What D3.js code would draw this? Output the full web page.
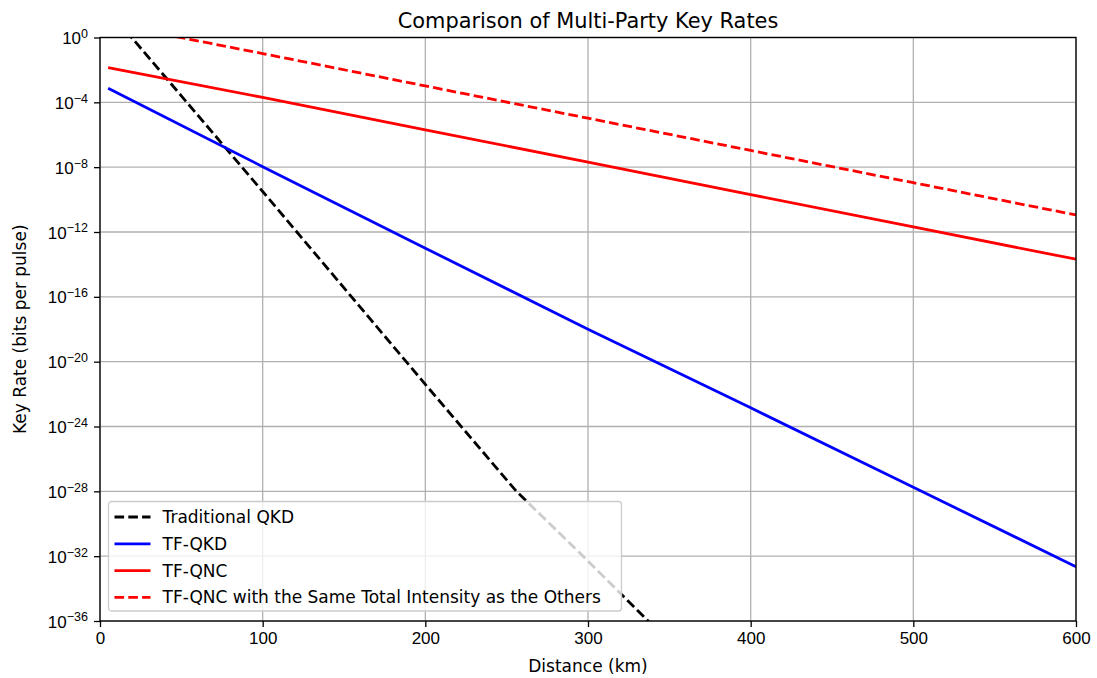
<!DOCTYPE html>
<html>
<head>
<meta charset="utf-8">
<script src="https://cdn.jsdelivr.net/npm/d3@7"></script>
<style>
body { margin: 0; background: #fff; }
svg { font-family: "DejaVu Sans", sans-serif; }
</style>
</head>
<body>
<div id="canvas"></div>
<script>
// Data (distance in km, key rate as log10 exponent)
var distances = [5, 100, 200, 300, 400, 500, 600]
var trad_distances = [5, 50, 100, 150, 200, 256, 297, 337, 345]
var trad_qkd = [1.7, -3.6, -9.5, -15.45, -21.4, -28.0, -32.0, -36.0, -36.8]
var tf_qkd = [-3.13, -7.97, -13.0, -18.0, -22.85, -27.75, -32.65]
var tf_qnc = [-1.86, -3.70, -5.70, -7.69, -9.69, -11.69, -13.68]
var tf_qnc_same = [0.87, -0.99, -2.99, -4.98, -6.97, -8.96, -10.95]
var x_ticks = [0, 100, 200, 300, 400, 500, 600]
var y_exps = [0, -4, -8, -12, -16, -20, -24, -28, -32, -36]

var series = [
    {name: "Traditional QKD", xs: trad_distances, ys: trad_qkd, colour: "black", dash: "9.6,4.2"},
    {name: "TF-QKD", xs: distances, ys: tf_qkd, colour: "blue", dash: null},
    {name: "TF-QNC", xs: distances, ys: tf_qnc, colour: "red", dash: null},
    {name: "TF-QNC with the Same Total Intensity as the Others", xs: distances, ys: tf_qnc_same, colour: "red", dash: "9.6,4.2"}
]

// Display variables
var total_width = 1097, total_height = 678
var margin = {top: 37.5, right: 21, bottom: 57, left: 100}
var width = total_width - margin.left - margin.right
var height = total_height - margin.top - margin.bottom
var grid_colour = "#b0b0b0"
var font_size = "17px", title_size = "20.9px"
var line_w = 2.8, thin_w = 1.3, tick_len = 6

var svg_outer = d3.select("#canvas").append("svg").attr("width", total_width).attr("height", total_height)
var svg = svg_outer.append("g").attr("transform", "translate(" + margin.left + "," + margin.top + ")")

svg.append("defs").append("clipPath").attr("id", "clip")
    .append("rect").attr("x", 0).attr("y", 0).attr("width", width).attr("height", height)

var x = d3.scaleLinear().domain([0, 600]).range([0, width])
var y = d3.scaleLog().domain([1e-36, 1]).range([height, 0])

// Grid
svg.append("g").selectAll("line").data(x_ticks).enter().append("line")
    .attr("x1", d => x(d)).attr("x2", d => x(d)).attr("y1", 0).attr("y2", height)
    .attr("stroke", grid_colour).attr("stroke-width", thin_w)
svg.append("g").selectAll("line").data(y_exps).enter().append("line")
    .attr("x1", 0).attr("x2", width).attr("y1", d => y(Math.pow(10, d))).attr("y2", d => y(Math.pow(10, d)))
    .attr("stroke", grid_colour).attr("stroke-width", thin_w)

// Lines
var line = d3.line().x(d => x(d[0])).y(d => y(Math.pow(10, d[1])))
var lines_g = svg.append("g").attr("clip-path", "url(#clip)")
series.forEach(function(s) {
    lines_g.append("path")
        .datum(s.xs.map((v, i) => [v, s.ys[i]]))
        .attr("d", line)
        .attr("fill", "none")
        .attr("stroke", s.colour)
        .attr("stroke-width", line_w)
        .attr("stroke-dasharray", s.dash)
})

// Axes
var x_axis = svg.append("g")
    .attr("transform", "translate(0," + height + ")")
    .call(d3.axisBottom(x).tickValues(x_ticks).tickSize(tick_len).tickPadding(5).tickFormat(d3.format("d")))
var y_axis = svg.append("g")
    .call(d3.axisLeft(y).tickValues(y_exps.map(e => Math.pow(10, e))).tickSize(tick_len).tickPadding(6).tickFormat(""))
y_axis.selectAll(".tick").each(function(d, i) {
    var t = d3.select(this).append("text")
        .attr("x", -12).attr("dy", "0.36em")
        .attr("fill", "#000").attr("text-anchor", "end")
        .style("font-size", font_size)
    t.append("tspan").text("10")
    t.append("tspan").attr("dy", "-0.5em").style("font-size", "12.5px")
        .text(y_exps[i] == 0 ? "0" : "\u2212" + Math.abs(y_exps[i]))
})
x_axis.selectAll("text").style("font-size", font_size).attr("fill", "#000")
svg.selectAll(".domain").remove()
svg.selectAll(".tick line").attr("stroke", "#000").attr("stroke-width", thin_w)
svg.append("rect").attr("width", width).attr("height", height)
    .attr("fill", "none").attr("stroke", "#000").attr("stroke-width", thin_w)

// Labels
svg.append("text").attr("x", width / 2).attr("y", -10).attr("text-anchor", "middle")
    .style("font-size", title_size).text("Comparison of Multi-Party Key Rates")
svg.append("text").attr("x", width / 2).attr("y", height + 51).attr("text-anchor", "middle")
    .style("font-size", font_size).text("Distance (km)")
svg.append("text").attr("transform", "rotate(-90)")
    .attr("x", -height / 2).attr("y", -74).attr("text-anchor", "middle")
    .style("font-size", font_size).text("Key Rate (bits per pulse)")

// Legend
var legend = svg.append("g").attr("transform", "translate(8.5," + (height - 119.5) + ")")
legend.append("rect").attr("width", 513).attr("height", 109.5).attr("rx", 3)
    .attr("fill", "white").attr("fill-opacity", 0.8).attr("stroke", "#cccccc").attr("stroke-width", thin_w)
series.forEach(function(s, i) {
    var row = legend.append("g").attr("transform", "translate(0," + (15.5 + i * 26.8) + ")")
    row.append("line").attr("x1", 6).attr("x2", 42).attr("y1", 0).attr("y2", 0)
        .attr("stroke", s.colour).attr("stroke-width", line_w).attr("stroke-dasharray", s.dash)
    row.append("text").attr("x", 54).attr("dy", "0.35em").style("font-size", font_size).text(s.name)
})
</script>
</body>
</html>
